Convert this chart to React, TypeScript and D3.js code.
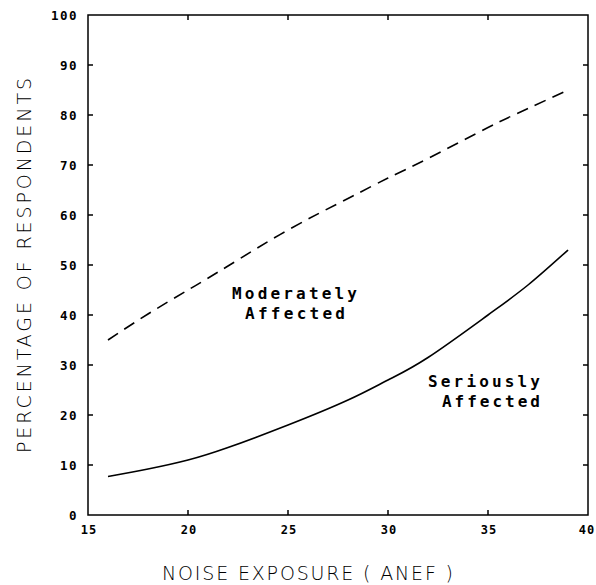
import React from "react";
import * as d3 from "d3";

const moderateX = [16, 18, 20, 22, 25, 28, 30, 32, 35, 37, 39];
const moderateY = [35, 40.2, 45, 49.8, 57, 63.3, 67.4, 71.3, 77.5, 81.3, 85];
const seriousX = [16, 18, 20, 22, 25, 28, 30, 32, 35, 37, 39];
const seriousY = [7.7, 9.2, 11, 13.5, 18, 23, 27, 31.5, 40, 46, 53];
const xTicks = [15, 20, 25, 30, 35, 40];
const yTicks = [0, 10, 20, 30, 40, 50, 60, 70, 80, 90, 100];

const W = 596, H = 585;
const M = { left: 88, right: 588, top: 15, bottom: 515 };

export default function App() {
  const x = d3.scaleLinear().domain([15, 40]).range([M.left, M.right]);
  const y = d3.scaleLinear().domain([0, 100]).range([M.bottom, M.top]);
  const line = d3
    .line<[number, number]>()
    .x((d) => x(d[0]))
    .y((d) => y(d[1]))
    .curve(d3.curveNatural);
  const modPts = moderateX.map((v, i) => [v, moderateY[i]] as [number, number]);
  const serPts = seriousX.map((v, i) => [v, seriousY[i]] as [number, number]);
  const tickFont = "'DejaVu Sans Mono', monospace";
  const tl = 5;
  return (
    <svg
      width={W}
      height={H}
      style={{ position: "absolute", left: 0, top: 0, background: "#fff" }}
    >
      <rect
        x={M.left}
        y={M.top}
        width={M.right - M.left}
        height={M.bottom - M.top}
        fill="none"
        stroke="#000"
        strokeWidth={1.5}
      />
      {yTicks.slice(1, -1).map((t) => (
        <g key={"yt" + t}>
          <line x1={M.left} x2={M.left + tl} y1={y(t)} y2={y(t)} stroke="#000" strokeWidth={1.5} />
          <line x1={M.right} x2={M.right - tl} y1={y(t)} y2={y(t)} stroke="#000" strokeWidth={1.5} />
        </g>
      ))}
      {xTicks.slice(1, -1).map((t) => (
        <g key={"xt" + t}>
          <line x1={x(t)} x2={x(t)} y1={M.bottom} y2={M.bottom - tl} stroke="#000" strokeWidth={1.5} />
          <line x1={x(t)} x2={x(t)} y1={M.top} y2={M.top + tl} stroke="#000" strokeWidth={1.5} />
        </g>
      ))}
      {yTicks.map((t) => (
        <text
          key={"yl" + t}
          x={78}
          y={y(t) + 4.5}
          textAnchor="end"
          fontFamily={tickFont}
          fontWeight="bold"
          fontSize={12.5}
          letterSpacing={1.5}
        >
          {t}
        </text>
      ))}
      {xTicks.map((t) => (
        <text
          key={"xl" + t}
          x={Math.min(x(t) + 1, W - 9)}
          y={534}
          textAnchor="middle"
          fontFamily={tickFont}
          fontWeight="bold"
          fontSize={12}
          letterSpacing={1}
        >
          {t}
        </text>
      ))}
      <path
        d={line(modPts) || ""}
        fill="none"
        stroke="#000"
        strokeWidth={1.6}
        strokeDasharray="12 7.5"
      />
      <path d={line(serPts) || ""} fill="none" stroke="#000" strokeWidth={1.6} />
      <g fontFamily={tickFont} fontWeight="bold" fontSize={16}>
        <text x={232} y={299} textLength={125} lengthAdjust="spacing">Moderately</text>
        <text x={245} y={319} textLength={100} lengthAdjust="spacing">Affected</text>
        <text x={428} y={387} textLength={112} lengthAdjust="spacing">Seriously</text>
        <text x={442} y={407} textLength={98} lengthAdjust="spacing">Affected</text>
      </g>
      <text
        x={162}
        y={580}
        fontFamily="'DejaVu Sans', sans-serif"
        fontWeight={300}
        fontSize={19}
        textLength={291}
        lengthAdjust="spacing"
      >
        NOISE EXPOSURE ( ANEF )
      </text>
      <text
        transform={`translate(31,453) rotate(-90)`}
        fontFamily="'DejaVu Sans', sans-serif"
        fontWeight={300}
        fontSize={19}
        textLength={375}
        lengthAdjust="spacing"
      >
        PERCENTAGE OF RESPONDENTS
      </text>
    </svg>
  );
}
